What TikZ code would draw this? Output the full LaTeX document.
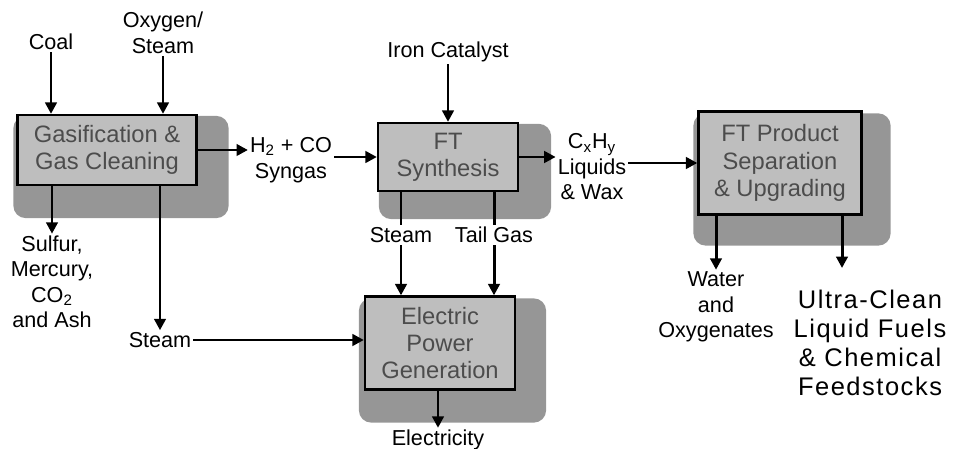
\documentclass[tikz,border=0pt]{standalone}
\usepackage{fontspec}
\setmainfont{Liberation Sans}
\newfontfamily\widefont[LetterSpace=6]{Liberation Sans}
\usepackage{tikz}
\usetikzlibrary{positioning,arrows.meta,calc,backgrounds}
\definecolor{boxgray}{RGB}{190,190,190}
\definecolor{shadegray}{RGB}{150,150,150}

\begin{document}
\begin{tikzpicture}[x=0.02cm,y=-0.02cm,
  unit/.style={draw,line width=1.3pt,fill=boxgray,align=center,inner sep=2pt,
    text=black!70,font=\fontsize{13.5}{15.5}\selectfont},
  lbl/.style={align=center,inner sep=1pt,font=\fontsize{12.3}{14.5}\selectfont},
  flow/.style={-{Triangle[length=6.5pt,width=6.5pt]},line width=1.7pt},
  pipe/.style={line width=1.7pt},
  shade/.style={fill=shadegray,rounded corners=7pt}]
\useasboundingbox (0,0) rectangle (953,449);

\node[unit,minimum width=3.58cm,minimum height=1.40cm] (gas) at (107,150) {Gasification \&\\Gas Cleaning};
\node[unit,minimum width=2.80cm,minimum height=1.36cm] (ft) at (448,157) {FT\\Synthesis};
\node[unit,minimum width=3.26cm,minimum height=2.06cm] (sep) at (780,163) {FT Product\\Separation\\\& Upgrading};
\node[unit,minimum width=3.00cm,minimum height=1.86cm] (pow) at (440,343) {Electric\\Power\\Generation};

\begin{scope}[on background layer]
\fill[shade] ([shift={(-3,2)}]gas.north west) rectangle ([shift={(31,32)}]gas.south east);
\fill[shade] ([shift={(2,2)}]ft.north west) rectangle ([shift={(32,27)}]ft.south east);
\fill[shade] ([shift={(-4,3)}]sep.north west) rectangle ([shift={(28,30)}]sep.south east);
\fill[shade] ([shift={(-5,3)}]pow.north west) rectangle ([shift={(30,32)}]pow.south east);
\end{scope}

\node[lbl] (coal) at (51,42) {Coal};
\node[lbl] (oxy) at (163,33) {Oxygen/\\Steam};
\node[lbl] (syn) at (291,160) {H\textsubscript{2} + CO\\Syngas};
\node[lbl] (iron) at (448,52) {Iron Catalyst};
\node[lbl] (cxhy) at (592,167) {C\textsubscript{x}H\textsubscript{y}\\Liquids\\\& Wax};
\node[lbl] (stm1) at (401,235) {Steam};
\node[lbl] (tail) at (494,235) {Tail Gas};
\node[lbl] (sulf) at (52,282) {Sulfur,\\Mercury,\\CO\textsubscript{2}\\and Ash};
\node[lbl] (stm2) at (160,340) {Steam};
\node[lbl] (elec) at (438,440) {Electricity};
\node[lbl] (wat) at (716,307) {Water\\and\\Oxygenates};
\node[align=center,inner sep=1pt,font=\widefont\fontsize{14.5}{16.5}\selectfont] (fuel) at (870,343) {Ultra-Clean\\Liquid Fuels\\\& Chemical\\Feedstocks};
\coordinate (fuelin) at (842,268);

\draw[flow] (coal.south) -- (coal.south |- gas.north);
\draw[flow] (oxy.south) -- (oxy.south |- gas.north);
\draw[flow] (gas.east) -- (gas.east -| syn.west);
\draw[flow] (ft.west -| syn.east) -- (ft.west);
\draw[flow] (iron.south) -- (iron.south |- ft.north);
\draw[flow] (ft.east) -- (ft.east -| cxhy.west);
\draw[flow] (sep.west -| cxhy.east) -- (sep.west);
\draw[flow] (sulf.north |- gas.south) -- (sulf.north);
\draw[flow] (stm2.north |- gas.south) -- (stm2.north);
\draw[flow] (stm2.east) -- (stm2.east -| pow.west);
\draw[pipe] (stm1.north |- ft.south) -- (stm1.north);
\draw[pipe] (tail.north |- ft.south) -- (tail.north);
\draw[flow] (stm1.south) -- (stm1.south |- pow.north);
\draw[flow] (tail.south) -- (tail.south |- pow.north);
\draw[flow] (pow.south -| elec.north) -- (elec.north);
\draw[flow] (wat.north |- sep.south) -- (wat.north);
\draw[flow] (fuelin |- sep.south) -- (fuelin);
\end{tikzpicture}
\end{document}
